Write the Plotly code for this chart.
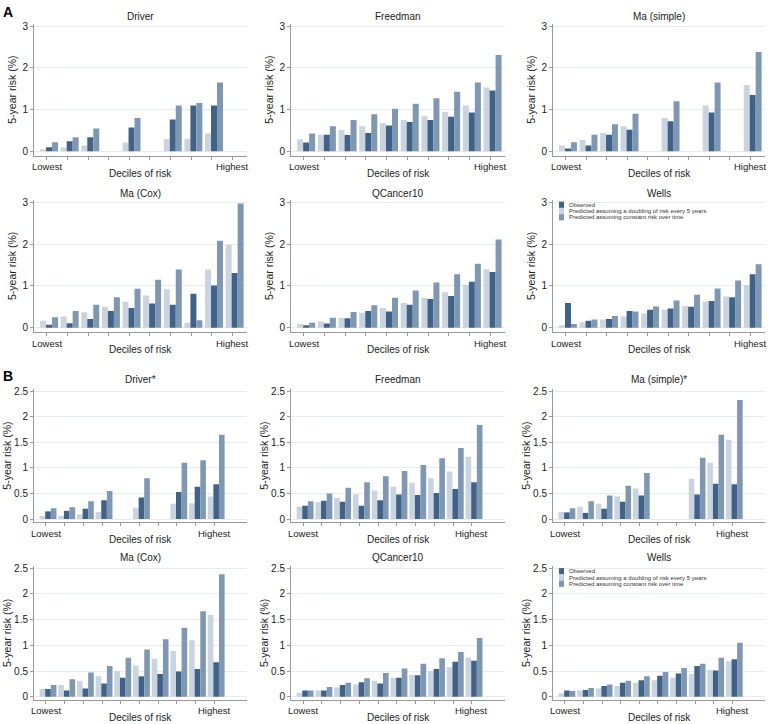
import plotly.graph_objects as go

N = None
slots = list(range(1, 11))
end_labels = ["Lowest", "Highest"]

# ---------------- Panel A ----------------
a_driver_dbl = [0.05, 0.09, 0.14, N, 0.21, N, 0.29, 0.30, 0.43, N]
a_driver_obs = [0.10, 0.24, 0.34, N, 0.57, N, 0.76, 1.10, 1.10, N]
a_driver_const = [0.22, 0.34, 0.55, N, 0.80, N, 1.10, 1.16, 1.65, N]

a_freedman_dbl = [0.29, 0.40, 0.51, 0.60, 0.67, 0.75, 0.84, 0.95, 1.10, 1.53]
a_freedman_obs = [0.21, 0.40, 0.39, 0.44, 0.62, 0.70, 0.75, 0.83, 0.93, 1.46]
a_freedman_const = [0.43, 0.60, 0.75, 0.89, 1.02, 1.14, 1.27, 1.43, 1.65, 2.31]

a_masimple_dbl = [0.14, 0.27, 0.44, 0.60, N, 0.80, N, 1.10, N, 1.59]
a_masimple_obs = [0.07, 0.14, 0.40, 0.52, N, 0.72, N, 0.93, N, 1.35]
a_masimple_const = [0.22, 0.40, 0.65, 0.90, N, 1.20, N, 1.65, N, 2.38]

a_macox_dbl = [0.17, 0.27, 0.37, 0.50, 0.62, 0.77, 0.92, 0.12, 1.39, 1.98]
a_macox_obs = [0.07, 0.11, 0.21, 0.40, 0.47, 0.58, 0.55, 0.81, 1.01, 1.31]
a_macox_const = [0.25, 0.40, 0.55, 0.73, 0.93, 1.15, 1.39, 0.18, 2.08, 2.97]

a_qcancer_dbl = [0.09, 0.15, 0.24, 0.36, 0.47, 0.59, 0.72, 0.85, 1.03, 1.40]
a_qcancer_obs = [0.06, 0.10, 0.23, 0.40, 0.39, 0.55, 0.69, 0.76, 1.10, 1.33]
a_qcancer_const = [0.12, 0.24, 0.38, 0.54, 0.72, 0.89, 1.08, 1.28, 1.53, 2.11]

a_wells_dbl = [0.06, 0.13, 0.20, 0.27, 0.34, 0.43, 0.52, 0.63, 0.75, 1.02]
a_wells_obs = [0.59, 0.17, 0.21, 0.40, 0.43, 0.46, 0.50, 0.64, 0.73, 1.28]
a_wells_const = [0.09, 0.20, 0.28, 0.39, 0.51, 0.65, 0.79, 0.94, 1.13, 1.52]

# ---------------- Panel B ----------------
b_driver_dbl = [0.06, 0.06, 0.09, 0.14, N, 0.22, N, 0.30, 0.31, 0.44]
b_driver_obs = [0.15, 0.16, 0.20, 0.37, N, 0.42, N, 0.53, 0.63, 0.68]
b_driver_const = [0.21, 0.23, 0.35, 0.55, N, 0.80, N, 1.10, 1.15, 1.65]

b_freedman_dbl = [0.24, 0.33, 0.41, 0.48, 0.56, 0.63, 0.71, 0.80, 0.93, 1.22]
b_freedman_obs = [0.26, 0.36, 0.34, 0.26, 0.37, 0.48, 0.47, 0.51, 0.59, 0.72]
b_freedman_const = [0.35, 0.50, 0.61, 0.72, 0.84, 0.94, 1.06, 1.19, 1.39, 1.84]

b_masimple_dbl = [0.14, 0.24, 0.30, 0.44, 0.60, N, N, 0.79, 1.10, 1.55]
b_masimple_obs = [0.13, 0.12, 0.20, 0.34, 0.46, N, N, 0.48, 0.69, 0.68]
b_masimple_const = [0.21, 0.35, 0.46, 0.65, 0.90, N, N, 1.20, 1.65, 2.33]

b_macox_dbl = [0.15, 0.23, 0.31, 0.40, 0.50, 0.61, 0.74, 0.89, 1.10, 1.59]
b_macox_obs = [0.15, 0.12, 0.16, 0.26, 0.37, 0.40, 0.44, 0.49, 0.54, 0.67]
b_macox_const = [0.23, 0.34, 0.47, 0.60, 0.76, 0.92, 1.12, 1.34, 1.66, 2.38]

b_qcancer_dbl = [0.08, 0.12, 0.18, 0.24, 0.31, 0.37, 0.43, 0.50, 0.58, 0.76]
b_qcancer_obs = [0.12, 0.12, 0.23, 0.28, 0.26, 0.37, 0.42, 0.54, 0.68, 0.70]
b_qcancer_const = [0.12, 0.19, 0.27, 0.36, 0.46, 0.55, 0.64, 0.75, 0.87, 1.14]

b_wells_dbl = [0.07, 0.12, 0.16, 0.21, 0.27, 0.32, 0.37, 0.44, 0.52, 0.69]
b_wells_obs = [0.12, 0.13, 0.21, 0.27, 0.32, 0.41, 0.45, 0.60, 0.51, 0.73]
b_wells_const = [0.11, 0.17, 0.24, 0.31, 0.40, 0.48, 0.56, 0.64, 0.76, 1.05]

panels = [
    ("Driver", a_driver_obs, a_driver_dbl, a_driver_const),
    ("Freedman", a_freedman_obs, a_freedman_dbl, a_freedman_const),
    ("Ma (simple)", a_masimple_obs, a_masimple_dbl, a_masimple_const),
    ("Ma (Cox)", a_macox_obs, a_macox_dbl, a_macox_const),
    ("QCancer10", a_qcancer_obs, a_qcancer_dbl, a_qcancer_const),
    ("Wells", a_wells_obs, a_wells_dbl, a_wells_const),
    ("Driver*", b_driver_obs, b_driver_dbl, b_driver_const),
    ("Freedman", b_freedman_obs, b_freedman_dbl, b_freedman_const),
    ("Ma (simple)*", b_masimple_obs, b_masimple_dbl, b_masimple_const),
    ("Ma (Cox)", b_macox_obs, b_macox_dbl, b_macox_const),
    ("QCancer10", b_qcancer_obs, b_qcancer_dbl, b_qcancer_const),
    ("Wells", b_wells_obs, b_wells_dbl, b_wells_const),
]

legend_names = ["Observed",
                "Predicted assuming a doubling of risk every 5 years",
                "Predicted assuming constant risk over time"]

C_OBS = "#3f6288"
C_DBL = "#c9d4e0"
C_CONST = "#7e97b3"

W, H = 768, 724
FONT = "Liberation Sans, Arial, sans-serif"
TXT = "#222222"
TICK_SHIFT = 0.11


def px_x(x):
    return x / W


def px_y(y):
    return 1 - y / H


col_px = [(34, 247), (291, 505), (553, 765)]
row_px = [(20.7, 154.0), (198.0, 331.7), (389.0, 522.7), (567.0, 701.7)]
title_y = [14, 192, 379, 558]

fig = go.Figure()
layout = dict(
    width=W, height=H, margin=dict(l=0, r=0, t=0, b=0),
    paper_bgcolor="white", plot_bgcolor="white",
    showlegend=False, barmode="overlay",
    font=dict(family=FONT, color=TXT, size=10),
)
annotations = []
shapes = []

for i, (title, obs, dbl, const) in enumerate(panels):
    r, c = divmod(i, 3)
    is_b = i >= 6
    ax = "" if i == 0 else str(i + 1)
    xa, ya = "x" + ax, "y" + ax
    w = 0.30 if is_b else 0.29
    for k, (vals, col) in enumerate([(dbl, C_DBL), (obs, C_OBS), (const, C_CONST)]):
        fig.add_trace(go.Bar(
            x=slots, y=vals, width=w, offset=-1.5 * w + k * w,
            marker=dict(color=col, line=dict(width=0)),
            xaxis=xa, yaxis=ya, showlegend=False,
        ))
    x0, x1 = col_px[c]
    y0, y1 = row_px[r]
    xr = [0.25, 11.65] if is_b else [0.27, 10.6]
    if is_b:
        yr = [-0.06, 2.54]
        tv = [0, 0.5, 1, 1.5, 2, 2.5]
        tt = ["0", "0.5", "1", "1.5", "2", "2.5"]
    else:
        yr = [-0.11, 3.06]
        tv = [0, 1, 2, 3]
        tt = ["0", "1", "2", "3"]
    layout["xaxis" + ax] = dict(
        domain=[px_x(x0), px_x(x1)], anchor=ya, range=xr,
        tickvals=[s - TICK_SHIFT for s in slots], ticktext=[""] * len(slots),
        ticks="outside", ticklen=3, tickcolor="#9a9a9a",
        showline=True, linecolor="#9a9a9a", linewidth=1,
        showgrid=False, zeroline=False,
    )
    layout["yaxis" + ax] = dict(
        domain=[px_y(y1), px_y(y0)], anchor=xa, range=yr,
        tickvals=tv, ticktext=tt,
        ticks="outside", ticklen=3, tickcolor="#9a9a9a",
        showline=True, linecolor="#9a9a9a", linewidth=1,
        showgrid=True, gridcolor="#e9ecef", gridwidth=1,
        zeroline=False,
        tickfont=dict(size=10, color=TXT, family=FONT),
    )
    # Lowest / Highest end labels
    for s, lab in zip([slots[0], slots[-1]], end_labels):
        annotations.append(dict(
            text=lab, xref=xa, yref="paper",
            x=s - TICK_SHIFT, y=px_y(y1 + 11),
            xanchor="center", yanchor="middle", showarrow=False,
            font=dict(size=9.5, color=TXT, family=FONT),
        ))
    # subplot title
    annotations.append(dict(
        text=title, xref="paper", yref="paper",
        x=px_x((x0 + x1) / 2), y=px_y(title_y[r]),
        xanchor="center", yanchor="middle", showarrow=False,
        font=dict(size=10, color=TXT, family=FONT),
    ))
    # x axis title
    annotations.append(dict(
        text="Deciles of risk", xref="paper", yref="paper",
        x=px_x((x0 + x1) / 2), y=px_y(y1 + 17.5),
        xanchor="center", yanchor="middle", showarrow=False,
        font=dict(size=10, color=TXT, family=FONT),
    ))
    # y axis title
    annotations.append(dict(
        text="5-year risk (%)", xref="paper", yref="paper",
        x=px_x(x0 - (27 if is_b else 22)), y=px_y((y0 + y1) / 2),
        xanchor="center", yanchor="middle", showarrow=False, textangle=-90,
        font=dict(size=10.5, color=TXT, family=FONT),
    ))

# Panel letters
annotations.append(dict(text="<b>A</b>", xref="paper", yref="paper",
                        x=px_x(1), y=px_y(9), xanchor="left", yanchor="middle",
                        showarrow=False, font=dict(size=14, color="#000", family=FONT)))
annotations.append(dict(text="<b>B</b>", xref="paper", yref="paper",
                        x=px_x(1), y=px_y(376), xanchor="left", yanchor="middle",
                        showarrow=False, font=dict(size=14, color="#000", family=FONT)))

# Legends inside the Wells panels
for top in (200.0, 569.0):
    for k, (nm, col) in enumerate(zip(legend_names, [C_OBS, C_DBL, C_CONST])):
        yt = top + k * 6.3
        shapes.append(dict(type="rect", xref="paper", yref="paper",
                           x0=px_x(559), x1=px_x(564), y0=px_y(yt + 6.3), y1=px_y(yt),
                           fillcolor=col, line=dict(width=0)))
        annotations.append(dict(text=nm, xref="paper", yref="paper",
                                x=px_x(567), y=px_y(yt + 3.2), xanchor="left", yanchor="middle",
                                showarrow=False, font=dict(size=6, color="#333", family=FONT)))

layout["annotations"] = annotations
layout["shapes"] = shapes
fig.update_layout(**layout)
fig.write_html(
    "out.html",
    config={"displayModeBar": False},
    post_script="document.body.style.margin='0';document.body.style.overflow='hidden';",
)
